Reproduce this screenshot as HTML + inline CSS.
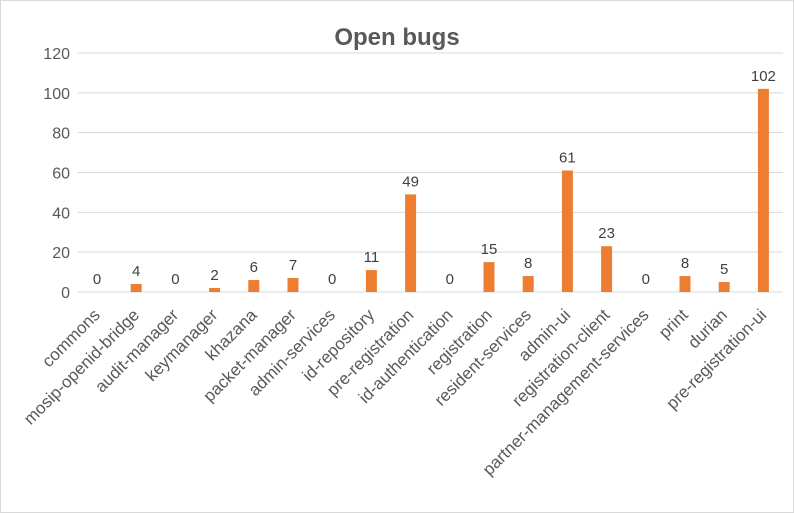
<!DOCTYPE html>
<html><head><meta charset="utf-8"><style>
body{margin:0;background:#fff;}
svg{display:block;font-family:"Liberation Sans",Calibri,sans-serif;}
</style></head><body>
<svg id="c" width="794" height="513" xmlns="http://www.w3.org/2000/svg">
<rect x="0.5" y="0.5" width="793" height="512" fill="#fff" stroke="#d9d9d9"/>
<text x="397" y="45" text-anchor="middle" font-size="24" font-weight="bold" fill="#595959">Open bugs</text>
<g id="grid"></g><g id="bars"></g><g id="labels"></g>
</svg>
<script>
const categories=["commons","mosip-openid-bridge","audit-manager","keymanager","khazana","packet-manager","admin-services","id-repository","pre-registration","id-authentication","registration","resident-services","admin-ui","registration-client","partner-management-services","print","durian","pre-registration-ui"];
const values=[0,4,0,2,6,7,0,11,49,0,15,8,61,23,0,8,5,102];
const yTicks=[0,20,40,60,80,100,120];
const NS="http://www.w3.org/2000/svg";
const x0=77.4,step=39.2,y0=292,yTop=53,yMax=120;
const y=v=>y0-(v/yMax)*(y0-yTop);
const xc=i=>x0+step*(i+0.5);
function mk(t,a,p){const e=document.createElementNS(NS,t);for(const k in a)e.setAttribute(k,a[k]);p.appendChild(e);return e;}
const g=document.getElementById('grid'),b=document.getElementById('bars'),l=document.getElementById('labels');
yTicks.forEach(v=>{
 const ln=mk('line',{x1:x0,x2:x0+step*18,y1:y(v),y2:y(v),stroke:'#d9d9d9','stroke-width':1},g);
 
 
 const t=mk('text',{x:70,y:y(v)+6,'text-anchor':'end','font-size':16,fill:'#595959'},g);
 t.textContent=v;
 
 
});
categories.forEach((c,i)=>{
 const v=values[i],bw=11;
 const r=mk('rect',{x:xc(i)-bw/2,y:y(v),width:bw,height:y0-y(v),fill:'#ed7d31'},b);
 
 
 const dl=mk('text',{x:xc(i),y:y(v)-8,'text-anchor':'middle','font-size':15,fill:'#404040'},l);
 dl.textContent=v;
 
 
 const tl=mk('text',{x:xc(i)+4,y:y0+24,'text-anchor':'end','font-size':17,fill:'#595959',transform:`rotate(-45 ${xc(i)+4} ${y0+24})`},l);
 tl.textContent=c;
 
 
});
</script>
</body></html>
